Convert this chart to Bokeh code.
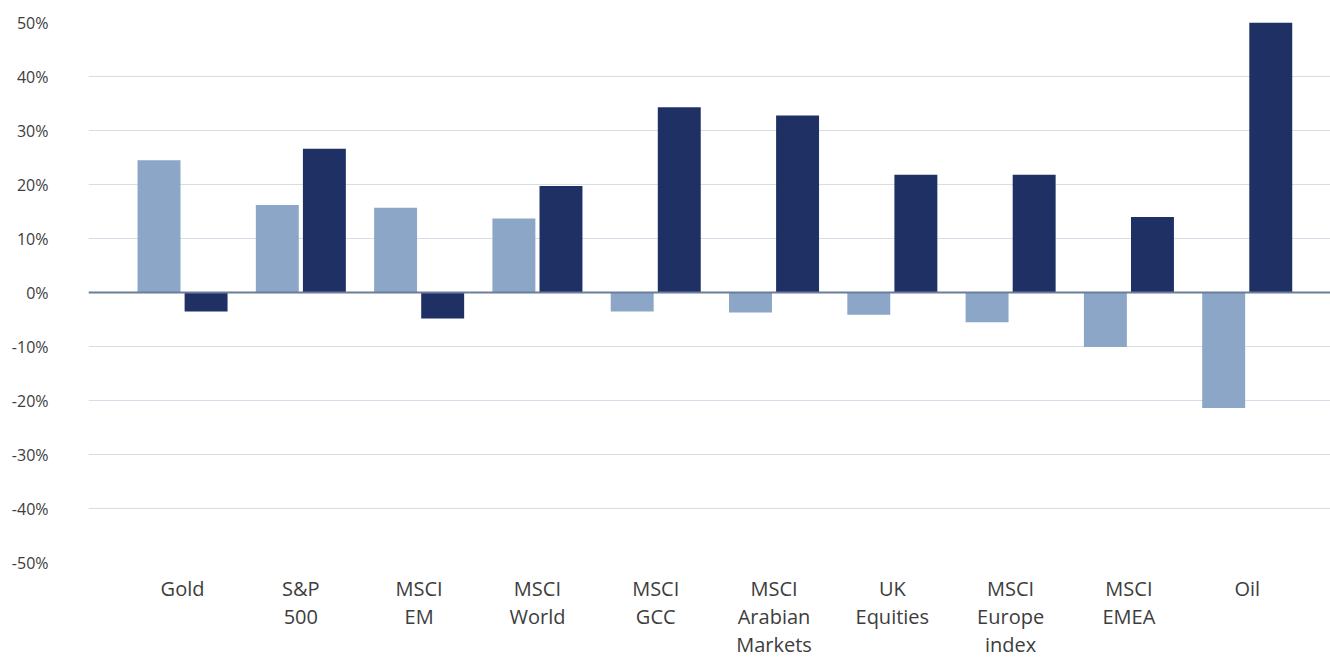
from bokeh.plotting import figure
from bokeh.models import ColumnDataSource, Range1d, FixedTicker, Span, PrintfTickFormatter
from bokeh.transform import dodge
from bokeh.embed import file_html
from bokeh.resources import INLINE

categories = ["Gold", "S&P\n500", "MSCI\nEM", "MSCI\nWorld", "MSCI\nGCC",
              "MSCI\nArabian\nMarkets", "UK\nEquities", "MSCI\nEurope\nindex",
              "MSCI\nEMEA", "Oil"]
series_a = [24.5, 16.2, 15.7, 13.7, -3.5, -3.7, -4.1, -5.5, -10.1, -21.4]
series_b = [-3.5, 26.6, -4.8, 19.7, 34.3, 32.8, 21.8, 21.8, 14.0, 50.0]
y_ticks = [-50, -40, -30, -20, -10, 0, 10, 20, 30, 40, 50]

idx = list(range(len(categories)))
src = ColumnDataSource(dict(x=idx, a=series_a, b=series_b))

FONT = "Open Sans"
p = figure(width=1330, height=661, output_backend="svg", toolbar_location=None,
           x_range=Range1d(-0.795, 9.704), y_range=Range1d(-50, 50))
p.min_border_top = 22
p.min_border_left = 88
p.min_border_right = 0
p.min_border_bottom = 0
p.outline_line_color = None
p.background_fill_color = "white"
p.border_fill_color = "white"

p.vbar(x=dodge("x", -0.199), top="a", width=0.363, source=src,
       fill_color="#8ba6c6", line_color=None)
p.vbar(x=dodge("x", 0.199), top="b", width=0.363, source=src,
       fill_color="#1f3164", line_color=None)

p.add_layout(Span(location=0, dimension="width", line_color="#6a7d99", line_width=2))

# y axis
p.yaxis.ticker = FixedTicker(ticks=y_ticks)
p.yaxis.formatter = PrintfTickFormatter(format="%d%%")
p.yaxis.axis_line_color = None
p.yaxis.major_tick_line_color = None
p.yaxis.minor_tick_line_color = None
p.yaxis.major_tick_out = 0
p.yaxis.major_tick_in = 0
p.yaxis.major_label_standoff = 40
p.yaxis.major_label_text_font = FONT
p.yaxis.major_label_text_font_size = "16px"
p.yaxis.major_label_text_color = "#3d3d3d"

p.ygrid.ticker = FixedTicker(ticks=y_ticks)
p.ygrid.grid_line_color = "#d6dde8"
p.ygrid.grid_line_width = 1
p.xgrid.grid_line_color = None

# x axis
p.xaxis.ticker = FixedTicker(ticks=idx)
p.xaxis.major_label_overrides = {i: c for i, c in zip(idx, categories)}
p.xaxis.axis_line_color = None
p.xaxis.major_tick_line_color = None
p.xaxis.minor_tick_line_color = None
p.xaxis.major_tick_out = 0
p.xaxis.major_tick_in = 0
p.xaxis.major_label_standoff = 12
p.xaxis.major_label_text_font = FONT
p.xaxis.major_label_text_font_size = "20px"
p.xaxis.major_label_text_color = "#3d3d3d"
p.xaxis.major_label_text_line_height = 1.05

open("out.html", "w").write(file_html(p, INLINE))
